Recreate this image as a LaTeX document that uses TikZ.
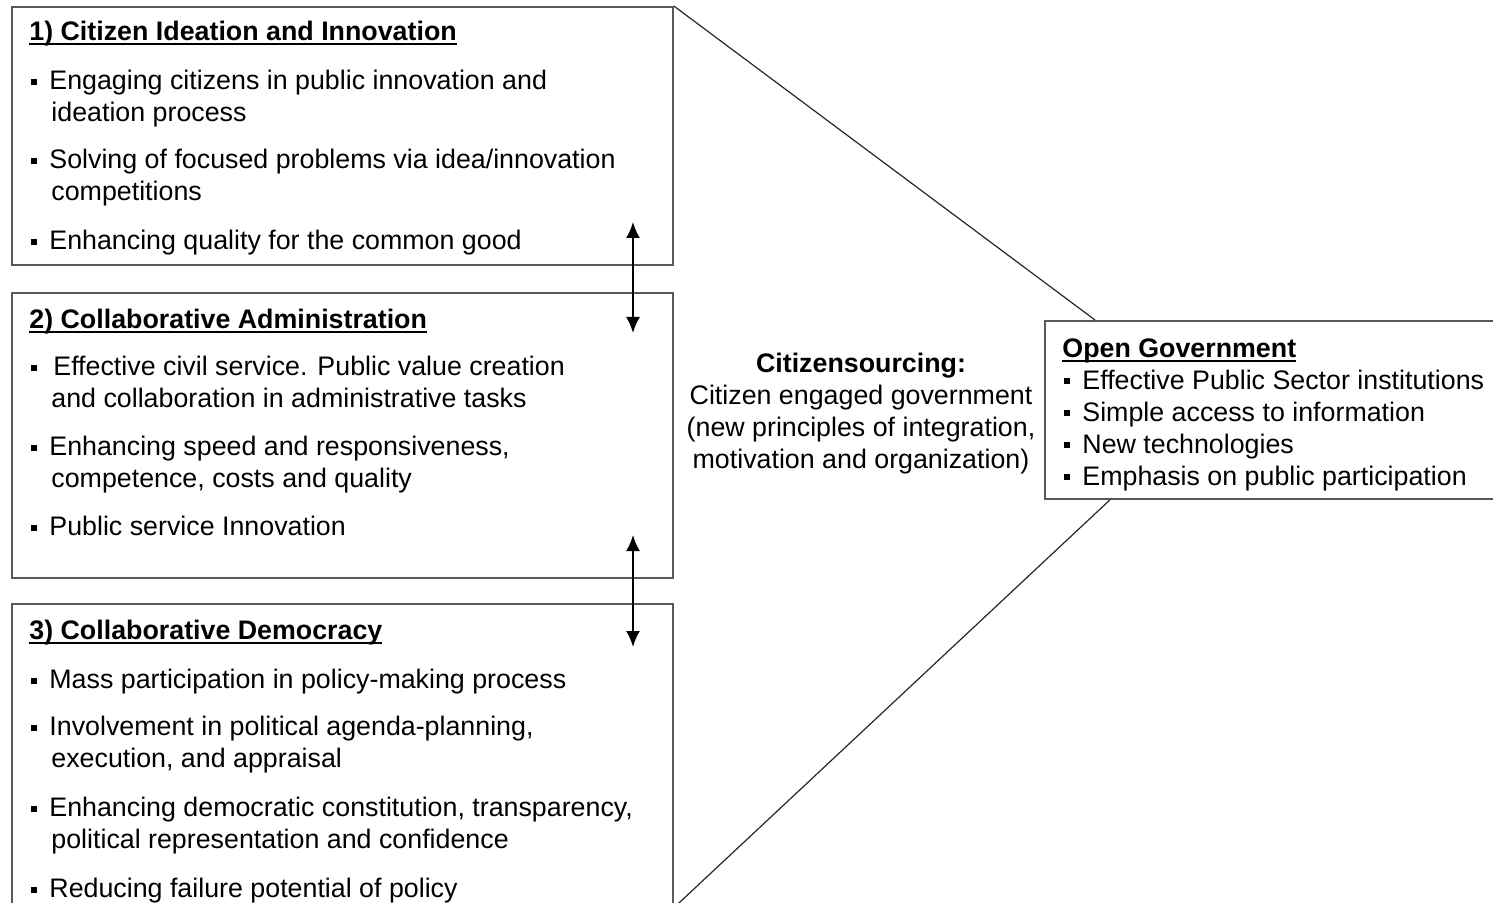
\documentclass[tikz,border=0pt]{standalone}
\usepackage{fontspec}
\setmainfont{Liberation Sans}
\usetikzlibrary{arrows.meta,calc}
\newsavebox{\hdbox}
\newcommand{\hd}[1]{\sbox{\hdbox}{\textbf{#1}}\usebox{\hdbox}\llap{\rule[-2.2pt]{\wd\hdbox}{0.9pt}}}
\newcommand{\bul}{\makebox[10pt][l]{\hspace{1pt}\rule[2.4pt]{3pt}{3pt}}}
\newcommand{\cont}{\hspace*{11pt}}

\begin{document}
\begin{tikzpicture}[x=0.5pt,y=-0.5pt,
  box/.style={draw=black!65,line width=0.9pt,anchor=north west,inner sep=0pt,minimum width=330.5pt},
  txt/.style={anchor=north west,inner sep=0pt,align=left,font=\fontsize{13.4}{16}\selectfont},
  link/.style={draw=black!85,line width=0.6pt},
  updown/.style={{Latex[length=8pt,width=7pt]}-{Latex[length=8pt,width=7pt]},line width=1pt}]
	% Frame of the figure
	\useasboundingbox (0,0) rectangle (1493,903);
	\clip (0,0) rectangle (1493,903);
	% Three levels on the left
	\node[box, minimum height=129pt] (b1) at (11,6) {};
	\node[box, minimum height=142.5pt] (b2) at (11,292) {};
	\node[box, minimum height=151.5pt] (b3) at (11,603) {};
	\node[txt] (t1) at (29,21) {\hd{1) Citizen Ideation and Innovation}\\[8.5pt]
		\bul Engaging citizens in public innovation and\\
		\cont ideation process\\[7.5pt]
		\bul Solving of focused problems via idea/innovation\\
		\cont competitions\\[8.5pt]
		\bul Enhancing quality for the common good};
	\node[txt] (t2) at (29,309) {\hd{2) Collaborative Administration}\\[7.5pt]
		\bul\hspace{2pt}Effective civil service. Public value creation\\
		\cont and collaboration in administrative tasks\\[8pt]
		\bul Enhancing speed and responsiveness,\\
		\cont competence, costs and quality\\[8pt]
		\bul Public service Innovation};
	\node[txt] (t3) at (29,620) {\hd{3) Collaborative Democracy}\\[8.5pt]
		\bul Mass participation in policy-making process\\[7.5pt]
		\bul Involvement in political agenda-planning,\\
		\cont execution, and appraisal\\[8.5pt]
		\bul Enhancing democratic constitution, transparency,\\
		\cont political representation and confidence\\[8.5pt]
		\bul Reducing failure potential of policy};
	% Arrows between the levels
	\coordinate (u1) at (633,222);
	\coordinate (d1) at (633,333);
	\coordinate (u2) at (633,535);
	\coordinate (d2) at (633,647);
	\draw[updown] (u1) -- (d1);
	\draw[updown] (u2) -- (d2);
	% Middle text
	\node[txt, anchor=north, align=center] (cs) at (861,353) {\textbf{Citizensourcing:}\\
		Citizen engaged government\\
		(new principles of integration,\\
		motivation and organization)};
	% Open government on the right
	\node[box, minimum width=233pt, minimum height=89pt] (og) at (1044,320) {};
	\node[txt] (tog) at (1062,338) {\hd{Open Government}\\
		\bul Effective Public Sector institutions\\
		\bul Simple access to information\\
		\bul New technologies\\
		\bul Emphasis on public participation};
	% Funnel lines
	\coordinate (ogtop) at ($(og.north west)+(51,0)$);
	\coordinate (ogbot) at ($(og.south west)+(66,0)$);
	\draw[link] (b1.north east) -- (ogtop);
	\draw[link] (ogbot) -- (b3.south east);
\end{tikzpicture}
\end{document}
